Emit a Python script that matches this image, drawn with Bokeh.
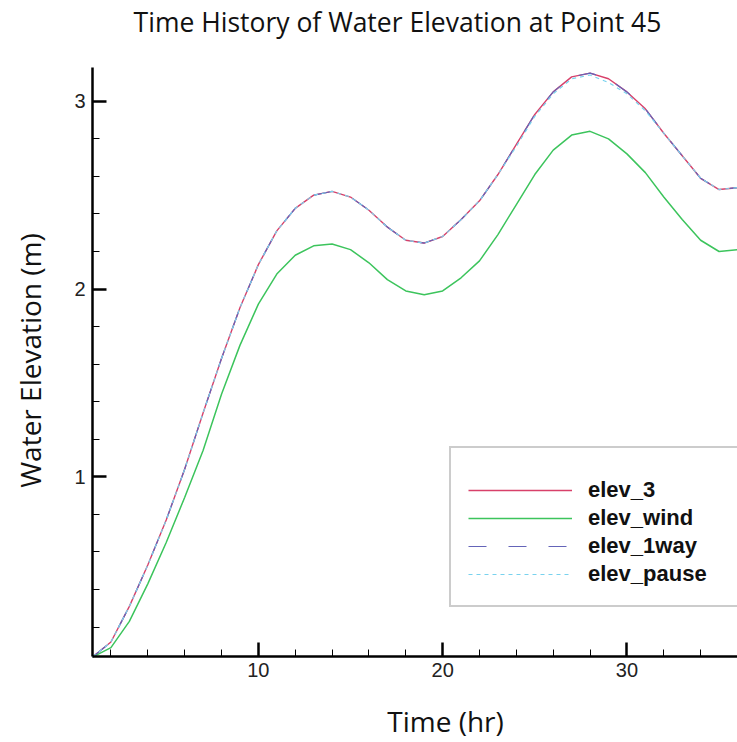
import math
from bokeh.plotting import figure
from bokeh.models import Range1d, Legend, LegendItem, FixedTicker, Label
from bokeh.embed import file_html
from bokeh.resources import INLINE

# ---- data ----
time_hr = list(range(1, 37))

elev_3 = [0.04, 0.12, 0.31, 0.53, 0.77, 1.04, 1.34, 1.63, 1.90, 2.13,
          2.31, 2.43, 2.50, 2.52, 2.49, 2.42, 2.33, 2.26, 2.245, 2.28,
          2.37, 2.47, 2.61, 2.77, 2.93, 3.05, 3.13, 3.15, 3.12, 3.05,
          2.96, 2.83, 2.71, 2.59, 2.53, 2.54]

elev_wind = [0.04, 0.09, 0.23, 0.43, 0.65, 0.89, 1.14, 1.44, 1.70, 1.92,
             2.08, 2.18, 2.23, 2.24, 2.21, 2.14, 2.05, 1.99, 1.97, 1.99,
             2.06, 2.15, 2.29, 2.45, 2.61, 2.74, 2.82, 2.84, 2.80, 2.72,
             2.62, 2.49, 2.37, 2.26, 2.20, 2.21]

elev_1way = [0.04, 0.12, 0.31, 0.53, 0.77, 1.04, 1.34, 1.63, 1.90, 2.13,
             2.31, 2.43, 2.50, 2.52, 2.49, 2.42, 2.33, 2.26, 2.245, 2.28,
             2.37, 2.47, 2.61, 2.77, 2.93, 3.05, 3.13, 3.15, 3.12, 3.05,
             2.96, 2.83, 2.71, 2.59, 2.53, 2.54]

elev_pause = [0.04, 0.12, 0.31, 0.53, 0.77, 1.04, 1.34, 1.63, 1.90, 2.13,
              2.31, 2.43, 2.50, 2.52, 2.49, 2.42, 2.33, 2.26, 2.245, 2.28,
              2.37, 2.47, 2.61, 2.76, 2.92, 3.04, 3.12, 3.14, 3.10, 3.04,
              2.95, 2.83, 2.71, 2.59, 2.53, 2.54]

x_major = [10, 20, 30]
y_major = [1, 2, 3]
x_minor = list(range(2, 37, 2))
y_minor = [round(0.2 * k, 1) for k in range(1, 16)]

title_text = "Time History of Water Elevation at Point 45"
x_label = "Time (hr)"
y_label = "Water Elevation (m)"

# ---- layout (pixels) ----
W, H = 737, 742
AX_L, AX_T, AX_B = 92, 67, 656          # axes box on the canvas
X0, X1 = 1, 36                          # visible time range
Y0, Y1 = 0.043, 3.18                    # visible elevation range

xs = (W - AX_L) / (X1 - X0)
ys = (AX_B - AX_T) / (Y1 - Y0)
x_range = Range1d(X0 - AX_L / xs, X1)
y_range = Range1d(Y0 - (H - AX_B) / ys, Y1 + AX_T / ys)

p = figure(width=W, height=H, output_backend="svg", toolbar_location=None,
           x_range=x_range, y_range=y_range,
           min_border_left=0, min_border_right=0,
           min_border_top=0, min_border_bottom=0)
p.grid.visible = False
p.outline_line_color = None
p.background_fill_color = "white"
p.border_fill_color = "white"

for ax in (p.xaxis[0], p.yaxis[0]):
    ax.axis_line_width = 2.5
    ax.axis_line_color = "black"
    ax.major_tick_in = 14
    ax.major_tick_out = 0
    ax.major_tick_line_width = 2.5
    ax.minor_tick_in = 7
    ax.minor_tick_out = 0
    ax.minor_tick_line_width = 1
    ax.major_label_text_font = "Liberation Sans"
    ax.major_label_text_font_size = "20px"
    ax.major_label_text_color = "#222222"

p.xaxis.fixed_location = Y0
p.xaxis.bounds = (X0, X1)
p.yaxis.fixed_location = X0
p.yaxis.bounds = (Y0, Y1)
p.xaxis.ticker = FixedTicker(ticks=x_major, minor_ticks=x_minor)
p.yaxis.ticker = FixedTicker(ticks=y_major, minor_ticks=y_minor)
p.xaxis.major_label_standoff = 6
p.yaxis.major_label_standoff = 7

r3 = p.line(time_hr, elev_3, line_color="#d8406a", line_width=1.4)
rw = p.line(time_hr, elev_wind, line_color="#3cc45c", line_width=1.5)
r1 = p.line(time_hr, elev_1way, line_color="#6464b8", line_width=1.2, line_dash="18 22")
rp = p.line(time_hr, elev_pause, line_color="#78d2ee", line_width=1.2, line_dash="4 4")

legend = Legend(items=[LegendItem(label="elev_3", renderers=[r3]),
                       LegendItem(label="elev_wind", renderers=[rw]),
                       LegendItem(label="elev_1way", renderers=[r1]),
                       LegendItem(label="elev_pause", renderers=[rp])],
                location=(449, H - 607), glyph_width=104, glyph_height=28,
                label_height=28, label_width=200, label_standoff=16,
                padding=17, spacing=0, margin=0,
                title=" ", title_text_font_size="10px", title_standoff=0,
                border_line_color="#999999", border_line_width=2,
                background_fill_color="white", background_fill_alpha=1.0,
                label_text_font="Liberation Sans", label_text_font_style="bold",
                label_text_font_size="22px", label_text_color="#111111")
p.add_layout(legend, "center")

p.add_layout(Label(x=397, y=H - 21, x_units="screen", y_units="screen", text=title_text,
                   text_align="center", text_baseline="alphabetic",
                   text_font="Open Sans", text_font_size="26.5px", text_color="#111111"))
p.add_layout(Label(x=445, y=H - 720, x_units="screen", y_units="screen", text=x_label,
                   text_align="center", text_baseline="alphabetic",
                   text_font="Open Sans", text_font_size="28px", text_color="#111111"))
p.add_layout(Label(x=29, y=H - 360, x_units="screen", y_units="screen", text=y_label,
                   angle=math.pi / 2, text_align="center", text_baseline="alphabetic",
                   text_font="Open Sans", text_font_size="28px", text_color="#111111"))

open("out.html", "w").write(file_html(p, INLINE))
